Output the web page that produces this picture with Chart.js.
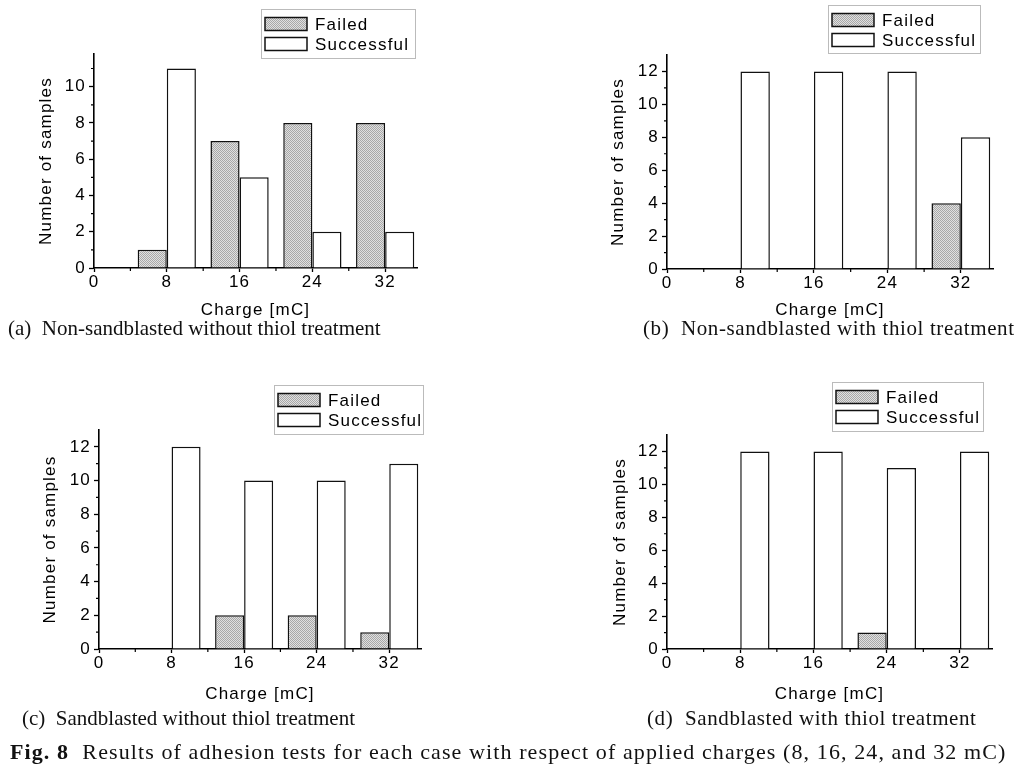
<!DOCTYPE html>
<html>
<head>
<meta charset="utf-8">
<script src="https://cdn.jsdelivr.net/npm/chart.js@4"></script>
<style>
  body { margin: 0; background: #fff; }
  #page { position: relative; width: 1020px; height: 779px; overflow: hidden; background: #fff; }
  canvas { position: absolute; }
  .cap { position: absolute; font-family: "Liberation Serif", "Times New Roman", serif; font-size: 21px; line-height: 24px; color: #111; white-space: nowrap; }
  .cap.right { letter-spacing: 0.6px; }
  .cap.fig { font-size: 22px; letter-spacing: 1.1px; }
  .cap b { font-weight: bold; }
</style>
</head>
<body>
<div id="page">
  <canvas id="chartA"></canvas>
  <canvas id="chartB"></canvas>
  <canvas id="chartC"></canvas>
  <canvas id="chartD"></canvas>
  <div class="cap" style="left:8px; top:316px">(a)&nbsp; Non-sandblasted without thiol treatment</div>
  <div class="cap right" style="left:643px; top:316px">(b)&nbsp; Non-sandblasted with thiol treatment</div>
  <div class="cap" style="left:22px; top:706px">(c)&nbsp; Sandblasted without thiol treatment</div>
  <div class="cap right" style="left:647px; top:706px">(d)&nbsp; Sandblasted with thiol treatment</div>
  <div class="cap fig" style="left:10px; top:740px"><b>Fig. 8</b>&nbsp; Results of adhesion tests for each case with respect of applied charges (8, 16, 24, and 32 mC)</div>
</div>
<script>
// Data
const charges = [8, 16, 24, 32];
const seriesNames = ["Failed", "Successful"];
const xTicks = [0, 8, 16, 24, 32];
const xMinorTicks = [4, 12, 20, 28];

const failedA = [1, 7, 8, 8];
const successA = [11, 5, 2, 2];
const failedB = [0, 0, 0, 4];
const successB = [12, 12, 12, 8];
const failedC = [0, 2, 2, 1];
const successC = [12, 10, 10, 11];
const failedD = [0, 0, 1, 0];
const successD = [12, 12, 11, 12];

const yTicksA = [0, 2, 4, 6, 8, 10];
const yMinorA = [1, 3, 5, 7, 9, 11];
const yTicks = [0, 2, 4, 6, 8, 10, 12];
const yMinor = [1, 3, 5, 7, 9, 11];

const FONT_SIZE = 17;
Chart.defaults.font.family = "'Liberation Sans', Arial, sans-serif";
Chart.defaults.font.size = FONT_SIZE;
Chart.defaults.color = "#000";

// Gray halftone fill like the printed figure
function makeHalftone() {
    const c = document.createElement("canvas");
    c.width = 2;
    c.height = 2;
    const g = c.getContext("2d");
    g.fillStyle = "#e0e0e0";
    g.fillRect(0, 0, 2, 2);
    g.fillStyle = "#a8a8a8";
    g.fillRect(0, 0, 1, 1);
    g.fillRect(1, 1, 1, 1);
    return g.createPattern(c, "repeat");
}
const halftone = makeHalftone();

// Tracked lettering, as in the scanned labels
const spacingPlugin = {
    id: "spacing",
    beforeUpdate(chart) { chart.ctx.letterSpacing = "1.2px"; },
    beforeDraw(chart) { chart.ctx.letterSpacing = "1.2px"; }
};

// Small unlabeled ticks between the labeled ones
const minorTickPlugin = {
    id: "minorTicks",
    afterDraw(chart, args, opts) {
        const ctx = chart.ctx;
        const xs = chart.scales.x;
        const ys = chart.scales.y;
        ctx.save();
        ctx.strokeStyle = "#000";
        ctx.lineWidth = 1.2;
        ctx.beginPath();
        opts.x.forEach(v => {
            const px = xs.getPixelForValue(v);
            ctx.moveTo(px, ys.bottom);
            ctx.lineTo(px, ys.bottom + 3);
        });
        opts.y.forEach(v => {
            const py = ys.getPixelForValue(v);
            ctx.moveTo(xs.left, py);
            ctx.lineTo(xs.left - 3, py);
        });
        ctx.stroke();
        ctx.restore();
    }
};

// Framed legend in the top right corner
const boxLegendPlugin = {
    id: "boxLegend",
    afterDraw(chart, args, opts) {
        const ctx = chart.ctx;
        ctx.save();
        ctx.letterSpacing = "1.2px";
        ctx.strokeStyle = "#777";
        ctx.lineWidth = 1;
        ctx.setLineDash([1, 1]);
        ctx.strokeRect(opts.x + 0.5, opts.y + 0.5, opts.w, opts.h);
        ctx.setLineDash([]);
        ctx.font = FONT_SIZE + "px 'Liberation Sans', Arial, sans-serif";
        ctx.textBaseline = "middle";
        chart.data.datasets.forEach((ds, i) => {
            const cy = opts.y + 15 + i * 20;
            ctx.fillStyle = ds.backgroundColor;
            ctx.fillRect(opts.x + 4, cy - 6.5, 42, 13);
            ctx.strokeStyle = "#111";
            ctx.lineWidth = 1.5;
            ctx.strokeRect(opts.x + 4, cy - 6.5, 42, 13);
            ctx.fillStyle = "#000";
            ctx.fillText(ds.label, opts.x + 54, cy + 1);
        });
        ctx.restore();
    }
};

function makeChart(p) {
    const canvas = document.getElementById(p.id);
    canvas.width = p.w;
    canvas.height = p.h;
    canvas.style.left = p.left + "px";
    canvas.style.top = p.top + "px";

    const lh = FONT_SIZE * 1.2;
    const padLeft = p.yTitleX - p.left - lh / 2;
    const yAxisWidth = p.area.l - p.left - padLeft;
    const padTop = p.area.t - p.top;
    const padRight = p.left + p.w - p.area.r;
    const xAxisHeight = p.xTitleY + lh / 2 - p.area.b;
    const padBottom = p.top + p.h - p.area.b - xAxisHeight;

    return new Chart(canvas, {
        type: "bar",
        data: {
            datasets: [
                {
                    label: seriesNames[0],
                    data: charges.map((c, i) => ({ x: c, y: p.failed[i] })),
                    backgroundColor: halftone,
                    borderColor: "#111",
                    borderWidth: 1.5
                },
                {
                    label: seriesNames[1],
                    data: charges.map((c, i) => ({ x: c, y: p.success[i] })),
                    backgroundColor: "#fff",
                    borderColor: "#111",
                    borderWidth: 1.5
                }
            ]
        },
        options: {
            responsive: false,
            animation: false,
            categoryPercentage: 0.8,
            barPercentage: 1,
            layout: {
                padding: { left: padLeft, right: padRight, top: padTop, bottom: padBottom }
            },
            plugins: {
                legend: { display: false },
                tooltip: { enabled: false },
                minorTicks: { x: xMinorTicks, y: p.yMinor },
                boxLegend: { x: p.legend.x - p.left, y: p.legend.y - p.top, w: p.legend.w, h: p.legend.h }
            },
            scales: {
                x: {
                    type: "linear",
                    offset: false,
                    min: 0,
                    max: 35.5,
                    afterBuildTicks: s => { s.ticks = xTicks.map(v => ({ value: v })); },
                    afterFit: s => { s.height = xAxisHeight; },
                    ticks: { padding: 0, maxRotation: 0 },
                    grid: { offset: false, drawOnChartArea: false, tickLength: 4, color: "#000", tickWidth: 1.3 },
                    border: { color: "#000", width: 1.6 },
                    title: { display: true, text: "Charge [mC]", padding: 0 }
                },
                y: {
                    min: 0,
                    max: p.yMax,
                    afterBuildTicks: s => { s.ticks = p.yTicks.map(v => ({ value: v })); },
                    afterFit: s => { s.width = yAxisWidth; },
                    ticks: { padding: 3 },
                    grid: { drawOnChartArea: false, tickLength: 5, color: "#000", tickWidth: 1.3 },
                    border: { color: "#000", width: 1.6 },
                    title: { display: true, text: "Number of samples", padding: 0 }
                }
            }
        },
        plugins: [spacingPlugin, minorTickPlugin, boxLegendPlugin]
    });
}

// (a) Non-sandblasted without thiol treatment
makeChart({
    id: "chartA", left: 0, top: 0, w: 450, h: 335,
    area: { l: 94, r: 417, t: 54, b: 268 }, yTitleX: 46, xTitleY: 310,
    failed: failedA, success: successA, yTicks: yTicksA, yMinor: yMinorA, yMax: 11.8,
    legend: { x: 261, y: 9, w: 154, h: 49 }
});

// (b) Non-sandblasted with thiol treatment
makeChart({
    id: "chartB", left: 560, top: 0, w: 460, h: 335,
    area: { l: 667, r: 993, t: 55, b: 269 }, yTitleX: 618, xTitleY: 310,
    failed: failedB, success: successB, yTicks: yTicks, yMinor: yMinor, yMax: 13,
    legend: { x: 828, y: 5, w: 152, h: 48 }
});

// (c) Sandblasted without thiol treatment
makeChart({
    id: "chartC", left: 0, top: 378, w: 450, h: 335,
    area: { l: 99, r: 421, t: 430, b: 649 }, yTitleX: 50, xTitleY: 694,
    failed: failedC, success: successC, yTicks: yTicks, yMinor: yMinor, yMax: 13,
    legend: { x: 274, y: 385, w: 149, h: 49 }
});

// (d) Sandblasted with thiol treatment
makeChart({
    id: "chartD", left: 560, top: 378, w: 460, h: 335,
    area: { l: 667, r: 992, t: 435, b: 649 }, yTitleX: 620, xTitleY: 694,
    failed: failedD, success: successD, yTicks: yTicks, yMinor: yMinor, yMax: 13,
    legend: { x: 832, y: 382, w: 151, h: 49 }
});
</script>
</body>
</html>
